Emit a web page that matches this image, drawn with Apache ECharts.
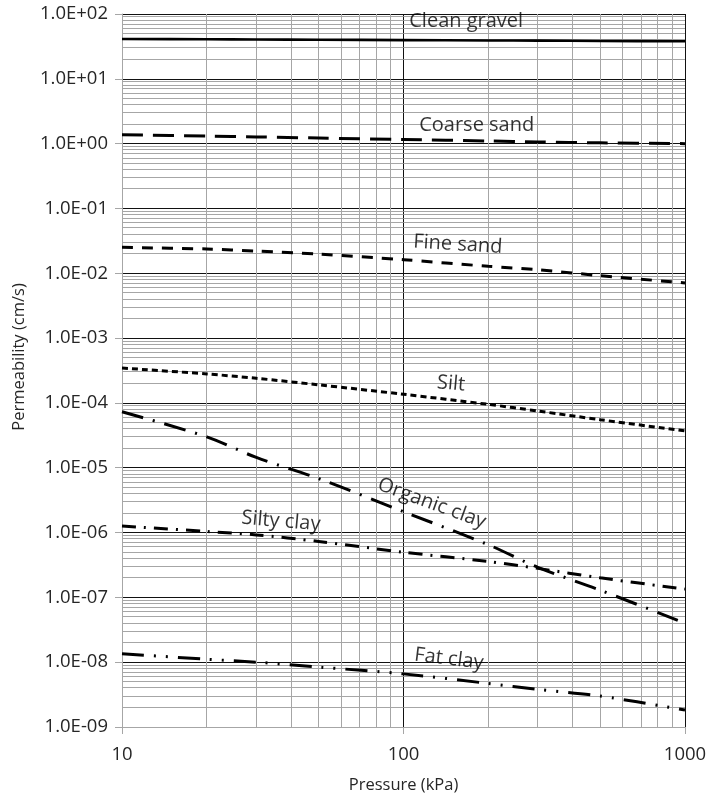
<!DOCTYPE html>
<html>
<head>
<meta charset="utf-8">
<script src="https://cdn.jsdelivr.net/npm/echarts@6/dist/echarts.min.js"></script>
<style>
html,body{margin:0;padding:0;background:#fff;}
#chart{width:710px;height:799px;}
</style>
</head>
<body>
<div id="chart"></div>
<script>
// ---- data ----
const pressures = [10, 20, 30, 50, 100, 200, 300, 500, 1000];
const cleanGravel = [41.2, 40.8, 40.5, 40.1, 39.6, 39.1, 38.8, 38.4, 37.9];
const coarseSand  = [1.37, 1.31, 1.27, 1.22, 1.16, 1.10, 1.06, 1.03, 1.00];
const fineSand    = [0.0251, 0.0237, 0.0220, 0.0198, 0.0162, 0.0128, 0.01135, 0.00918, 0.0071];
const silt        = [3.45e-4, 2.8e-4, 2.4e-4, 1.9e-4, 1.36e-4, 9.5e-5, 7.5e-5, 5.5e-5, 3.7e-5];
const organicClay = [7.3e-5, 3.0e-5, 1.44e-5, 6.8e-6, 2.1e-6, 6.5e-7, 2.9e-7, 1.29e-7, 4.0e-8];
const siltyClay   = [1.26e-6, 1.04e-6, 9.2e-7, 7.3e-7, 4.97e-7, 3.58e-7, 2.8e-7, 2.0e-7, 1.34e-7];
const fatClay     = [1.35e-8, 1.11e-8, 1.0e-8, 8.4e-9, 6.6e-9, 4.7e-9, 3.8e-9, 3.0e-9, 1.83e-9];

const seriesNames = ['Clean gravel', 'Coarse sand', 'Fine sand', 'Silt', 'Organic clay', 'Silty clay', 'Fat clay'];

// label anchors (data coordinates)
const labelX = [167, 182, 156, 147.5, 126, 36.7, 145];
const labelY = [76, 1.91, 0.0277, 1.98e-4, 2.82e-6, 1.49e-6, 1.12e-8];

const xTickLabels = ['10', '100', '1000'];
const yTickLabels = ['1.0E-09','1.0E-08','1.0E-07','1.0E-06','1.0E-05','1.0E-04','1.0E-03','1.0E-02','1.0E-01','1.0E+00','1.0E+01','1.0E+02'];
const minorMultipliers = [2, 3, 4, 5, 6, 7, 8, 9];

// ---- build ----
const seriesValues = [cleanGravel, coarseSand, fineSand, silt, organicClay, siltyClay, fatClay];
const dashes = [
  'solid',
  [21, 10],
  [11, 9],
  [6, 4],
  [22, 10, 2, 10],
  [14, 8, 2, 8],
  [22, 10, 2, 10, 2, 10]
];
const widths = [2.6, 3, 3, 3, 3, 3, 3];
const rotations = [0, 0, -3.5, -5, -20, -5, -7];

const FONT = "'Open Sans', sans-serif";
const TEXT = '#262626';
const X_MIN = 10, X_MAX = 1000, Y_MIN = 1e-9, Y_MAX = 100;

const minorY = [];
for (let e = -9; e <= 1; e++) minorMultipliers.forEach(m => minorY.push([X_MIN, m * Math.pow(10, e)]));
const minorX = [];
for (let e = 1; e <= 2; e++) minorMultipliers.forEach(m => minorX.push([m * Math.pow(10, e), Y_MIN]));

const ySplitColors = yTickLabels.map((_, i) => i === 0 ? '#a6a6a6' : '#111');
const xSplitColors = xTickLabels.map((_, i) => i === 0 ? '#a6a6a6' : '#111');

const crisp = v => Math.round(v - 0.5) + 0.5;

const series = [];
series.push({
  type: 'custom', z: 1, silent: true,
  data: minorY,
  renderItem: (params, api) => {
    const v = api.value(1);
    const a = api.coord([X_MIN, v]), b = api.coord([X_MAX, v]);
    const y = crisp(a[1]);
    return {type: 'line', shape: {x1: a[0], y1: y, x2: b[0], y2: y},
      style: {stroke: '#a6a6a6', lineWidth: 1}};
  }
});
series.push({
  type: 'custom', z: 1, silent: true,
  data: minorX,
  renderItem: (params, api) => {
    const v = api.value(0);
    const a = api.coord([v, Y_MIN]), b = api.coord([v, Y_MAX]);
    const x = crisp(a[0]);
    return {type: 'line', shape: {x1: x, y1: a[1], x2: x, y2: b[1]},
      style: {stroke: '#a6a6a6', lineWidth: 1}};
  }
});
seriesValues.forEach((vals, i) => {
  series.push({
    name: seriesNames[i], type: 'line', z: 5, symbol: 'none', smooth: 0.3,
    data: pressures.map((p, j) => [p, vals[j]]),
    lineStyle: {color: '#000', width: widths[i], type: dashes[i], cap: 'butt'}
  });
});
series.push({
  type: 'scatter', z: 6, symbolSize: 0, silent: true,
  data: seriesNames.map((n, i) => ({
    value: [labelX[i], labelY[i]], name: n,
    label: {rotate: rotations[i]}
  })),
  label: {
    show: true, position: 'inside', formatter: p => p.name,
    fontFamily: FONT, fontSize: 20, color: '#000',
    align: 'center', verticalAlign: 'middle'
  }
});

const chart = echarts.init(document.getElementById('chart'), null, {renderer: 'canvas'});
chart.setOption({
  animation: false,
  backgroundColor: '#fff',
  grid: {left: 122, right: 25, top: 14, bottom: 70},
  xAxis: {
    type: 'log', logBase: 10, min: X_MIN, max: X_MAX, interval: 1,
    name: 'Pressure (kPa)', nameLocation: 'middle', nameGap: 50,
    nameTextStyle: {fontFamily: FONT, fontSize: 16.5, color: TEXT},
    axisLine: {show: true, lineStyle: {color: '#a6a6a6', width: 1}},
    axisTick: {show: true, length: 7, lineStyle: {color: '#a6a6a6'}},
    axisLabel: {fontFamily: FONT, fontSize: 18.5, color: TEXT, margin: 18, interval: 0,
      formatter: v => xTickLabels[Math.round(Math.log10(v)) - 1]},
    splitLine: {show: true, lineStyle: {color: xSplitColors, width: 1}},
    minorTick: {show: false}, minorSplitLine: {show: false}
  },
  yAxis: {
    type: 'log', logBase: 10, min: Y_MIN, max: Y_MAX, interval: 1,
    name: 'Permeability (cm/s)', nameLocation: 'middle', nameGap: 94,
    nameTextStyle: {fontFamily: FONT, fontSize: 16.5, color: TEXT, padding: [0, 0, 0, 27]},
    axisLine: {show: true, lineStyle: {color: '#a6a6a6', width: 1}},
    axisTick: {show: true, length: 7, lineStyle: {color: '#a6a6a6'}},
    axisLabel: {fontFamily: FONT, fontSize: 18.5, color: TEXT, margin: 14, interval: 0,
      formatter: v => yTickLabels[Math.round(Math.log10(v)) + 9]},
    splitLine: {show: true, lineStyle: {color: ySplitColors, width: 1}},
    minorTick: {show: false}, minorSplitLine: {show: false}
  },
  series: series
});
</script>
</body>
</html>
